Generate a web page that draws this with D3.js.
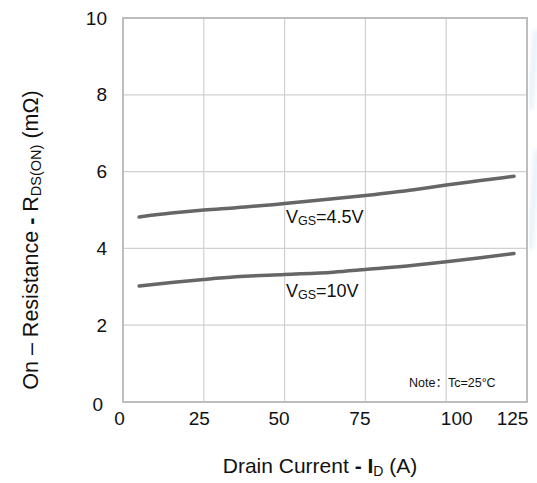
<!DOCTYPE html>
<html>
<head>
<meta charset="utf-8">
<script src="https://cdn.jsdelivr.net/npm/d3@7"></script>
<style>
  body { margin: 0; background: #fff; }
  text { font-family: "Liberation Sans", Arial, sans-serif; fill: #111; }
</style>
</head>
<body>
<div id="chart-area"></div>
<script>
// data
const xTicks = [0, 25, 50, 75, 100, 125];
const yTicks = [0, 2, 4, 6, 8, 10];
const current = [5, 15, 25, 35, 50, 65, 75, 90, 100, 110, 121];
const rds45 = [4.82, 4.92, 5.0, 5.06, 5.17, 5.29, 5.38, 5.53, 5.65, 5.76, 5.88];
const rds10 = [3.02, 3.11, 3.19, 3.26, 3.32, 3.38, 3.45, 3.56, 3.65, 3.75, 3.87];

const margin = { left: 123, right: 10, top: 18, bottom: 81 };
const width = 537 - margin.left - margin.right;
const height = 483 - margin.top - margin.bottom;

const svg = d3.select('#chart-area').append('svg')
  .attr('width', 537)
  .attr('height', 483);

// faint watermark strokes on the right edge
const defs = svg.append('defs');
defs.append('filter').attr('id', 'blur')
  .append('feGaussianBlur').attr('stdDeviation', 2.5);
[[536, 30, 530, 110], [537, 150, 530, 250]].forEach(([x1, y1, x2, y2]) => {
  svg.append('line')
    .attr('x1', x1).attr('y1', y1).attr('x2', x2).attr('y2', y2)
    .attr('stroke', '#d5e8f6').attr('stroke-width', 6)
    .attr('opacity', 0.6).attr('filter', 'url(#blur)');
});

const x = d3.scaleLinear().domain([0, 125]).range([0, width]);
const y = d3.scaleLinear().domain([0, 10]).range([height, 0]);

const g = svg.append('g')
  .attr('transform', `translate(${margin.left}, ${margin.top})`);

// grid
g.selectAll('.vgrid').data(xTicks.slice(1, -1)).enter().append('line')
  .attr('x1', d => x(d)).attr('x2', d => x(d))
  .attr('y1', 0).attr('y2', height)
  .attr('stroke', '#d0d0d0').attr('stroke-width', 1.2);
g.selectAll('.hgrid').data(yTicks.slice(1, -1)).enter().append('line')
  .attr('y1', d => y(d)).attr('y2', d => y(d))
  .attr('x1', 0).attr('x2', width)
  .attr('stroke', '#d0d0d0').attr('stroke-width', 1.2);

// frame
g.append('rect')
  .attr('width', width).attr('height', height)
  .attr('fill', 'none').attr('stroke', '#bdbdbd').attr('stroke-width', 2);

// X Axis (labels sit a little off the grid lines in the original)
const xShift = { 0: -4, 25: -5, 50: -6, 75: -6, 100: 10, 125: -15 };
const axisBottomCall = d3.axisBottom(x).tickValues(xTicks).tickSize(0).tickPadding(10);
const xa = g.append('g')
  .attr('transform', `translate(0, ${height})`)
  .call(axisBottomCall);
xa.select('.domain').remove();
xa.selectAll('text').attr('font-size', 19).attr('dy', '0.68em')
  .attr('dx', d => xShift[d]);

// Y Axis
const axisLeftCall = d3.axisLeft(y).tickValues(yTicks).tickSize(0).tickPadding(16);
const ya = g.append('g').call(axisLeftCall);
ya.select('.domain').remove();
ya.selectAll('text').attr('font-size', 19)
  .attr('dy', d => d === 0 ? '0.45em' : '0.32em')
  .attr('dx', d => d === 0 ? -4 : 0);

// curves
const line = d3.line()
  .x(d => x(d[0]))
  .y(d => y(d[1]))
  .curve(d3.curveMonotoneX);

[rds45, rds10].forEach(series => {
  g.append('path')
    .datum(current.map((c, i) => [c, series[i]]))
    .attr('d', line)
    .attr('fill', 'none')
    .attr('stroke', '#666')
    .attr('stroke-width', 3.5)
    .attr('stroke-linecap', 'round');
});

// curve labels
function vgsLabel(px, py, val) {
  const t = g.append('text').attr('x', px).attr('y', py).attr('font-size', 18);
  t.append('tspan').text('V');
  t.append('tspan').attr('font-size', 12.5).attr('dy', 2).text('GS');
  t.append('tspan').attr('dy', -2).text('=' + val);
}
vgsLabel(286 - margin.left, 223 - margin.top, '4.5V');
vgsLabel(286 - margin.left, 297 - margin.top, '10V');

const note = g.append('text')
  .attr('x', 409 - margin.left).attr('y', 387 - margin.top)
  .attr('font-size', 12.5);
note.append('tspan').text('Note');
note.append('tspan').attr('font-family', '"Noto Sans CJK SC"').text('：');
note.append('tspan').text('Tc=25°C');

// axis titles
const xt = svg.append('text')
  .attr('x', 320).attr('y', 473)
  .attr('text-anchor', 'middle')
  .attr('font-size', 21);
xt.append('tspan').text('Drain Current ');
xt.append('tspan').attr('font-weight', 'bold').text('- I');
xt.append('tspan').attr('font-size', 14).attr('dy', 3).text('D');
xt.append('tspan').attr('dy', -3).text(' (A)');

const yt = svg.append('text')
  .attr('transform', 'translate(38, 240) rotate(-90)')
  .attr('text-anchor', 'middle')
  .attr('font-size', 21.5);
yt.append('tspan').text('On – Resistance ');
yt.append('tspan').attr('font-weight', 'bold').text('-');
yt.append('tspan').text(' R');
yt.append('tspan').attr('font-size', 14.5).attr('dy', 3).text('DS(ON)');
yt.append('tspan').attr('dy', -3).text(' (mΩ)');
</script>
</body>
</html>
